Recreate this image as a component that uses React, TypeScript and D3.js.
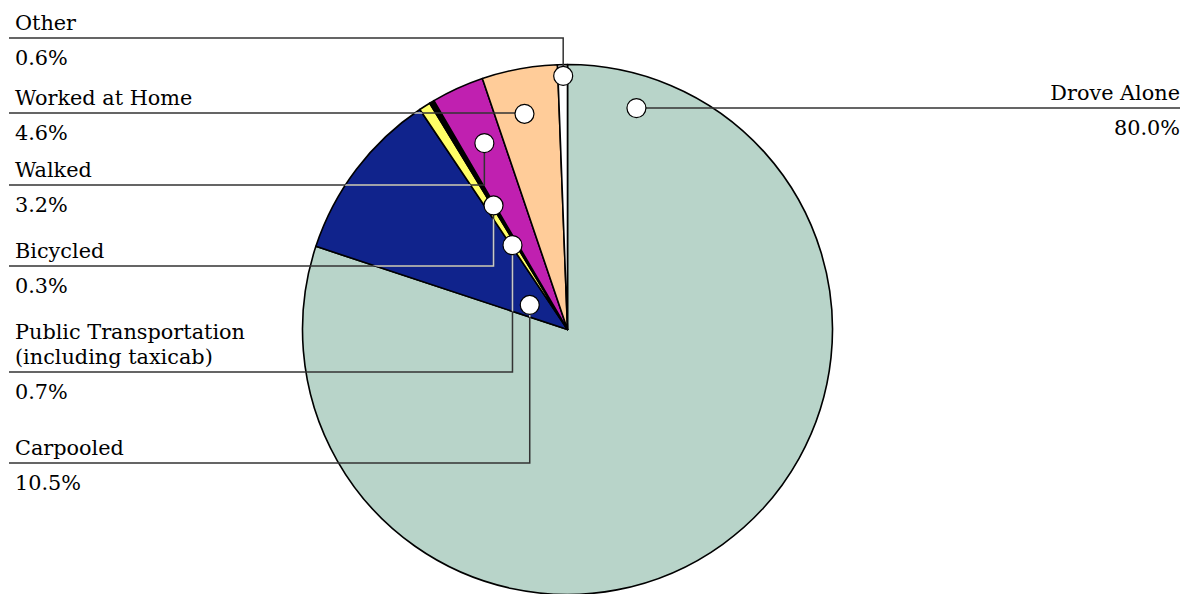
import * as d3 from 'd3';
import React from 'react';

const width = 1183;
const height = 594;
const center = { x: 567.5, y: 329.5 };
const radius = 265;

// commute mode shares, clockwise from 12 o'clock
const modes = [
  'Drove Alone',
  'Carpooled',
  'Public Transportation\n(including taxicab)',
  'Bicycled',
  'Walked',
  'Worked at Home',
  'Other'
];
const shares = [80.0, 10.5, 0.7, 0.3, 3.2, 4.6, 0.6];
const colors = ['#b8d4c9', '#10238c', '#ffff66', '#000000', '#c020b0', '#ffcc99', '#ffffff'];

// where each marker sits inside its slice (t = along the angle, k = along the radius)
const markerT = [0.06, 0.39, 0.3, 0.5, 0.54, 0.45, 0.55];
const markerK = [0.875, 0.17, 0.38, 0.545, 0.77, 0.83, 0.957];
// y of each label's underline, and which side it sits on
const labelLineY = [108, 463, 372, 266, 185, 113, 38];
const labelSide = ['right', 'left', 'left', 'left', 'left', 'left', 'left'];

const fmt = (v: number) => d3.format('.1f')(v) + '%';
const font = '"DejaVu Serif", serif';
const fontSize = 20.8;

export default function App() {
  const pie = d3
    .pie<number>()
    .sort(null)
    .value(d => d);
  const arcs = pie(shares);
  const arc = d3
    .arc<d3.PieArcDatum<number>>()
    .innerRadius(0)
    .outerRadius(radius);

  const markers = arcs.map((a, i) => {
    const ang = a.startAngle + markerT[i] * (a.endAngle - a.startAngle);
    const r = radius * markerK[i];
    return { x: center.x + r * Math.sin(ang), y: center.y - r * Math.cos(ang) };
  });

  const leader = (i: number) => {
    const m = markers[i];
    const y = labelLineY[i];
    const xEnd = labelSide[i] === 'right' ? 1180 : 9;
    return d3.line()([
      [xEnd, y],
      [m.x, y],
      [m.x, m.y]
    ]) as string;
  };

  return (
    <div style={{ position: 'absolute', left: 0, top: 0 }}>
      <svg width={width} height={height} style={{ display: 'block' }}>
        <defs>
          <clipPath id="darkSlice">
            <path d={arc(arcs[1]) as string} transform={`translate(${center.x},${center.y})`} />
          </clipPath>
        </defs>
        <g transform={`translate(${center.x},${center.y})`}>
          {arcs.map((a, i) => (
            <path
              key={i}
              d={arc(a) as string}
              fill={colors[i]}
              stroke="#000"
              strokeWidth={1.6}
              strokeLinejoin="round"
            />
          ))}
        </g>
        <g fill="none" strokeWidth={1.5}>
          {modes.map((_, i) => (
            <path key={i} d={leader(i)} stroke="#333" />
          ))}
          <g clipPath="url(#darkSlice)">
            {modes.map((_, i) => (
              <path key={i} d={leader(i)} stroke="#c8c8c8" />
            ))}
          </g>
        </g>
        {markers.map((m, i) => (
          <circle key={i} cx={m.x} cy={m.y} r={9.5} fill="#fff" stroke="#000" strokeWidth={1.2} />
        ))}
        <g fontFamily={font} fontSize={fontSize} fill="#000">
          {modes.map((name, i) => {
            const right = labelSide[i] === 'right';
            const x = right ? 1180 : 15;
            const lines = name.split('\n');
            const y = labelLineY[i];
            return (
              <g key={i} textAnchor={right ? 'end' : 'start'}>
                {lines.map((ln, j) => (
                  <text key={j} x={x} y={y - 8 - (lines.length - 1 - j) * 25}>
                    {ln}
                  </text>
                ))}
                <text x={x} y={y + 27}>
                  {fmt(shares[i])}
                </text>
              </g>
            );
          })}
        </g>
      </svg>
    </div>
  );
}
